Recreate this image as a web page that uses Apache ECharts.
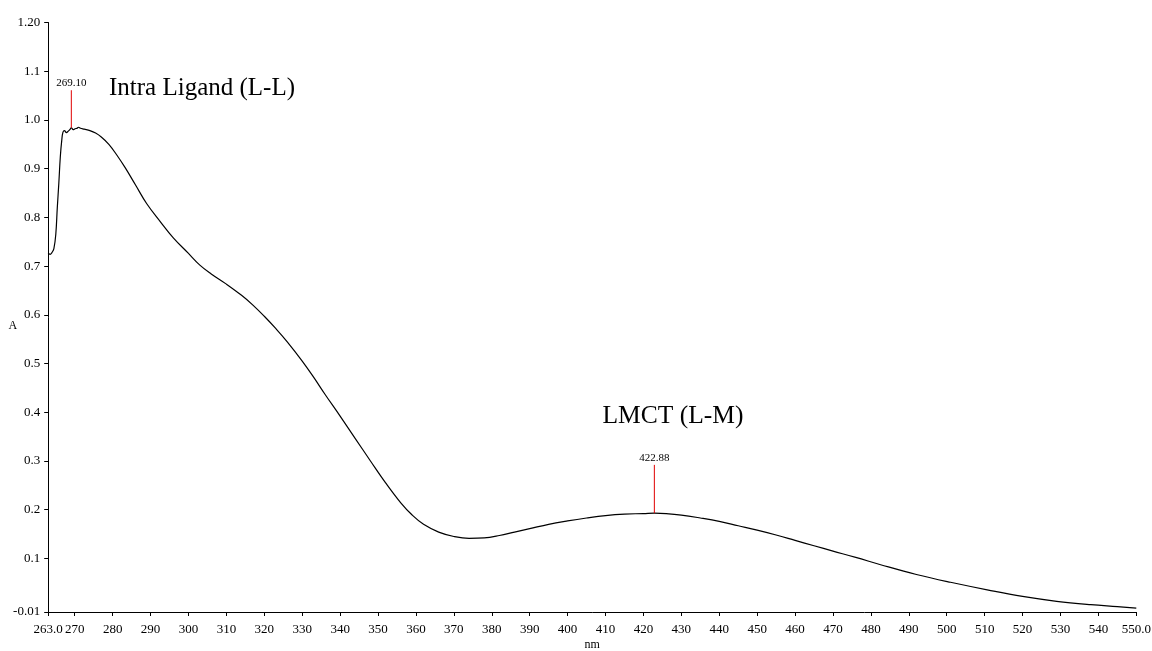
<!DOCTYPE html>
<html>
<head>
<meta charset="utf-8">
<script src="https://cdn.jsdelivr.net/npm/echarts@6.0.0/dist/echarts.min.js"></script>
<style>
  html, body { margin: 0; padding: 0; background: #fff; }
  #chart { width: 1152px; height: 651px; }
</style>
</head>
<body>
<div id="chart"></div>
<script>
// ---- Data ----
const wavelengthNm = [
  263.0, 263.5, 264.0, 264.5, 265.0, 265.4, 265.8, 266.2, 266.6, 266.9,
  267.3, 267.8, 268.3, 268.7, 269.1, 269.6, 270.1, 270.6, 271.0, 271.5,
  272.5, 274.0, 275.5, 277.0, 279.0, 281.0, 283.3, 286.0, 289.0, 292.5,
  296.0, 300.0, 303.0, 306.0, 310.0, 314.0, 317.0, 320.0, 323.0, 326.0,
  330.0, 333.0, 336.0, 340.0, 344.0, 348.0, 352.0, 356.0, 359.0, 362.0,
  366.0, 370.0, 374.0, 378.0, 382.0, 386.0, 390.0, 395.0, 400.0, 405.0,
  410.0, 415.0, 420.0, 422.88, 426.0, 430.0, 435.0, 440.0, 445.0, 450.0,
  455.0, 460.0, 465.0, 470.0, 476.0, 483.0, 492.0, 501.0, 511.0, 520.0,
  529.0, 538.0, 545.0, 550.0
];
const absorbance = [
  0.727, 0.724, 0.728, 0.736, 0.765, 0.820, 0.870, 0.925, 0.960, 0.975,
  0.978, 0.974, 0.977, 0.980, 0.984, 0.980, 0.982, 0.983, 0.985, 0.983,
  0.981, 0.978, 0.973, 0.965, 0.950, 0.929, 0.902, 0.867, 0.828, 0.792,
  0.758, 0.726, 0.702, 0.684, 0.663, 0.640, 0.620, 0.597, 0.572, 0.545,
  0.505, 0.472, 0.437, 0.392, 0.346, 0.300, 0.255, 0.214, 0.189, 0.170,
  0.154, 0.145, 0.141, 0.142, 0.147, 0.154, 0.161, 0.170, 0.177, 0.183,
  0.188, 0.191, 0.192, 0.193, 0.192, 0.189, 0.183, 0.176, 0.167, 0.158,
  0.148, 0.137, 0.126, 0.115, 0.102, 0.086, 0.067, 0.051, 0.035, 0.022,
  0.012, 0.005, 0.001, -0.002
];

// Peak picks (red markers)
const peakNm = [269.10, 422.88];
const peakLabels = ['269.10', '422.88'];
const peakBase = [0.984, 0.193];
const peakTop = [1.061, 0.292];

// Band annotations
const bandLabels = ['Intra Ligand (L-L)', 'LMCT (L-M)'];
const bandNm = [278.9, 427.8];
const bandA = [1.065, 0.392];

// Axis ticks
const xTickValues = [263, 270, 280, 290, 300, 310, 320, 330, 340, 350, 360, 370, 380, 390, 400,
  410, 420, 430, 440, 450, 460, 470, 480, 490, 500, 510, 520, 530, 540, 550];
const xTickLabels = ['263.0', '270', '280', '290', '300', '310', '320', '330', '340', '350', '360',
  '370', '380', '390', '400', '410', '420', '430', '440', '450', '460', '470', '480', '490', '500',
  '510', '520', '530', '540', '550.0'];
const yTickValues = [-0.01, 0.1, 0.2, 0.3, 0.4, 0.5, 0.6, 0.7, 0.8, 0.9, 1.0, 1.1, 1.2];
const yTickLabels = ['-0.01', '0.1', '0.2', '0.3', '0.4', '0.5', '0.6', '0.7', '0.8', '0.9', '1.0', '1.1', '1.20'];

// ---- Build options ----
const FONT = '"Liberation Serif", "Times New Roman", serif';
function lookup(values, labels) {
  return function (v) {
    for (let i = 0; i < values.length; i++) {
      if (Math.abs(v - values[i]) < 1e-6) return labels[i];
    }
    return '';
  };
}

const spectrum = wavelengthNm.map((x, i) => [x, absorbance[i]]);

const series = [{
  type: 'line',
  data: spectrum,
  showSymbol: false,
  symbol: 'none',
  smooth: 0.4,
  lineStyle: { color: '#000', width: 1.2 },
  silent: true,
  z: 3
}];

peakNm.forEach((x, i) => {
  series.push({
    type: 'line',
    data: [[x, peakBase[i]], [x, peakTop[i]]],
    symbol: 'none',
    lineStyle: { color: '#e00000', width: 1 },
    silent: true,
    z: 4
  });
});

series.push({
  type: 'scatter',
  data: peakNm.map((x, i) => ({ value: [x, peakTop[i]], name: peakLabels[i] })),
  symbolSize: 1,
  itemStyle: { color: 'rgba(0,0,0,0)', opacity: 1 },
  label: {
    show: true,
    position: 'top',
    distance: 1,
    formatter: p => p.name,
    fontFamily: FONT,
    fontSize: 11,
    color: '#000'
  },
  silent: true,
  z: 5
});

const bandSeries = {
  type: 'scatter',
  data: bandNm.map((x, i) => ({ value: [x, bandA[i]], name: bandLabels[i] })),
  symbolSize: 1,
  itemStyle: { color: 'rgba(0,0,0,0)', opacity: 1 },
  label: {
    show: true,
    position: 'inside',
    formatter: p => p.name,
    fontFamily: FONT,
    fontSize: 25,
    color: '#000',
    textBorderWidth: 0
  },
  silent: true,
  z: 5
};
bandSeries.data[0].label = { position: 'right', distance: 0 };
bandSeries.data[1].label = { fontSize: 25.5 };
series.push(bandSeries);

const option = {
  animation: false,
  backgroundColor: '#fff',
  grid: { left: 48.2, right: 15.7, top: 22.5, bottom: 39, outerBoundsMode: 'none', containLabel: false },
  xAxis: {
    type: 'value',
    min: 263,
    max: 550,
    name: 'nm',
    nameLocation: 'middle',
    nameGap: 27,
    nameMoveOverlap: false,
    nameTextStyle: { fontFamily: FONT, fontSize: 12, color: '#000' },
    axisLine: { show: true, onZero: false, lineStyle: { color: '#000', width: 1 } },
    axisTick: { show: true, length: 4, customValues: xTickValues, lineStyle: { color: '#000' } },
    axisLabel: {
      customValues: xTickValues,
      formatter: lookup(xTickValues, xTickLabels),
      fontFamily: FONT, fontSize: 13, color: '#000', margin: 11
    },
    splitLine: { show: false }
  },
  yAxis: {
    type: 'value',
    min: -0.01,
    max: 1.2,
    name: 'A',
    nameLocation: 'middle',
    nameRotate: 0,
    nameGap: 31,
    nameMoveOverlap: false,
    nameTextStyle: { fontFamily: FONT, fontSize: 12, color: '#000', verticalAlign: 'top', lineHeight: 18 },
    axisLine: { show: true, onZero: false, lineStyle: { color: '#000', width: 1 } },
    axisTick: { show: true, length: 4, customValues: yTickValues, lineStyle: { color: '#000' } },
    axisLabel: {
      customValues: yTickValues,
      formatter: lookup(yTickValues, yTickLabels),
      fontFamily: FONT, fontSize: 13, color: '#000', margin: 8,
      padding: [0, 0, 6, 0]
    },
    splitLine: { show: false }
  },
  series: series
};

const chart = echarts.init(document.getElementById('chart'), null, { renderer: 'canvas' });
chart.setOption(option);
</script>
</body>
</html>
